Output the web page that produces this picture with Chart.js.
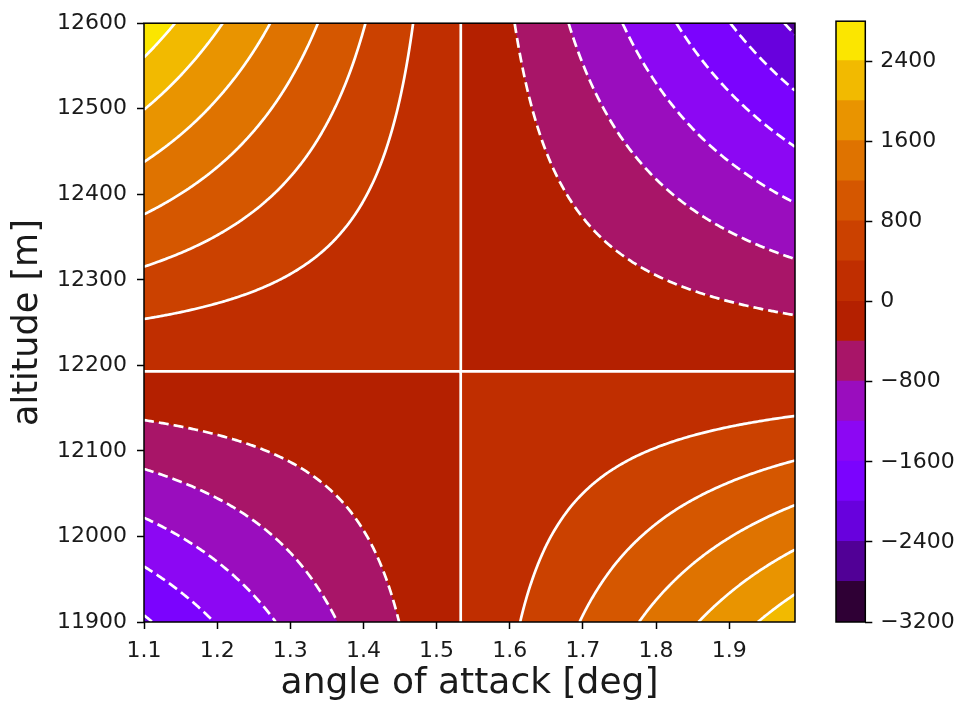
<!DOCTYPE html>
<html>
<head>
<meta charset="utf-8">
<script src="https://cdn.jsdelivr.net/npm/chart.js@4.4.1/dist/chart.umd.min.js"></script>
<style>
  html, body { margin: 0; padding: 0; background: #fff; }
  #wrap { position: relative; width: 960px; height: 706px; }
  #main { position: absolute; left: 0; top: 0; }
  #cbar { position: absolute; left: 826px; top: 0; }
</style>
</head>
<body>
<div id="wrap">
  <canvas id="main" width="960" height="706"></canvas>
  <canvas id="cbar" width="134" height="706"></canvas>
</div>
<script>
const alphaNodes = [1.1, 1.533, 1.99];
const altNodes = [11900, 12193, 12600];
const zRows = [
  [-2055, 0, 2250],
  [0, 0, 0],
  [2661, 0, -2480]
];
const levels = [-3200, -2800, -2400, -2000, -1600, -1200, -800, -400, 0, 400, 800, 1200, 1600, 2000, 2400, 2800];
const alphaTicks = [1.1, 1.2, 1.3, 1.4, 1.5, 1.6, 1.7, 1.8, 1.9];
const altTicks = [11900, 12000, 12100, 12200, 12300, 12400, 12500, 12600];
const cbarTicks = [-3200, -2400, -1600, -800, 0, 800, 1600, 2400];

const FONT = 'DejaVu Sans';
const TXT = '#1a1a1a';

// matplotlib "gnuplot" colormap
function gnuplot(t) {
  const c = [Math.sqrt(t), t * t * t, Math.sin(2 * Math.PI * t)];
  return c.map(v => Math.round(255 * Math.min(1, Math.max(0, v))));
}
const lo = levels[0], hi = levels[levels.length - 1];
const bandColors = levels.slice(0, -1).map((v, k) => gnuplot(((v + levels[k + 1]) / 2 - lo) / (hi - lo)));

function cellOf(nodes, v) {
  let k = 0;
  while (k < nodes.length - 2 && v > nodes[k + 1]) k++;
  return k;
}
function fieldAt(a, h) {
  const i = cellOf(alphaNodes, a), j = cellOf(altNodes, h);
  const tx = (a - alphaNodes[i]) / (alphaNodes[i + 1] - alphaNodes[i]);
  const ty = (h - altNodes[j]) / (altNodes[j + 1] - altNodes[j]);
  return (1 - tx) * (1 - ty) * zRows[j][i] + tx * (1 - ty) * zRows[j][i + 1] +
         (1 - tx) * ty * zRows[j + 1][i] + tx * ty * zRows[j + 1][i + 1];
}
function bandOf(z) {
  let k = 0;
  while (k < levels.length - 2 && z >= levels[k + 1]) k++;
  return k;
}

// marching squares, segments chained into polylines
function traceLevel(vals, nx, ny, px, py, L) {
  const adj = new Map(), pos = new Map();
  const link = (p, q) => {
    if (!adj.has(p)) adj.set(p, []);
    if (!adj.has(q)) adj.set(q, []);
    adj.get(p).push(q); adj.get(q).push(p);
  };
  const hKey = (i, j) => {
    const key = 'h' + i + '_' + j;
    if (!pos.has(key)) {
      const v0 = vals[j * nx + i], v1 = vals[j * nx + i + 1];
      const t = (L - v0) / (v1 - v0);
      pos.set(key, [px(i) + (px(i + 1) - px(i)) * t, py(j)]);
    }
    return key;
  };
  const vKey = (i, j) => {
    const key = 'v' + i + '_' + j;
    if (!pos.has(key)) {
      const v0 = vals[j * nx + i], v1 = vals[(j + 1) * nx + i];
      const t = (L - v0) / (v1 - v0);
      pos.set(key, [px(i), py(j) + (py(j + 1) - py(j)) * t]);
    }
    return key;
  };
  for (let j = 0; j < ny - 1; j++) {
    for (let i = 0; i < nx - 1; i++) {
      const va = vals[j * nx + i], vb = vals[j * nx + i + 1];
      const vc = vals[(j + 1) * nx + i + 1], vd = vals[(j + 1) * nx + i];
      const a = va >= L, b = vb >= L, c = vc >= L, d = vd >= L;
      const e = [];
      if (a !== b) e.push(hKey(i, j));
      if (b !== c) e.push(vKey(i + 1, j));
      if (d !== c) e.push(hKey(i, j + 1));
      if (a !== d) e.push(vKey(i, j));
      if (e.length === 2) link(e[0], e[1]);
      else if (e.length === 4) {
        const mid = (va + vb + vc + vd) / 4 >= L;
        if (mid === a) { link(e[0], e[1]); link(e[2], e[3]); }
        else { link(e[0], e[3]); link(e[1], e[2]); }
      }
    }
  }
  const seen = new Set(), lines = [];
  const walk = start => {
    const line = [pos.get(start)];
    seen.add(start);
    let cur = start;
    for (;;) {
      const nxt = adj.get(cur).find(k => !seen.has(k));
      if (!nxt) break;
      seen.add(nxt); line.push(pos.get(nxt)); cur = nxt;
    }
    return line;
  };
  for (const [k, n] of adj) if (n.length === 1 && !seen.has(k)) lines.push(walk(k));
  for (const k of adj.keys()) if (!seen.has(k)) { const l = walk(k); l.push(l[0]); lines.push(l); }
  return lines;
}

const contourPlugin = {
  id: 'contour',
  beforeDatasetsDraw(chart) {
    const { ctx, chartArea: a, scales: { x, y } } = chart;
    const w = Math.round(a.right - a.left), h = Math.round(a.bottom - a.top);
    const off = document.createElement('canvas');
    off.width = w; off.height = h;
    const octx = off.getContext('2d');
    const img = octx.createImageData(w, h);
    const xs = [], ys = [];
    for (let i = 0; i < w; i++) xs.push(x.getValueForPixel(a.left + i + 0.5));
    for (let j = 0; j < h; j++) ys.push(y.getValueForPixel(a.top + j + 0.5));
    for (let j = 0; j < h; j++) {
      for (let i = 0; i < w; i++) {
        const c = bandColors[bandOf(fieldAt(xs[i], ys[j]))];
        const p = 4 * (j * w + i);
        img.data[p] = c[0]; img.data[p + 1] = c[1]; img.data[p + 2] = c[2]; img.data[p + 3] = 255;
      }
    }
    octx.putImageData(img, 0, 0);
    ctx.drawImage(off, a.left, a.top);

    // contour lines: solid for >= 0, dashed for negative levels
    const step = 2;
    const nx = Math.ceil((a.right - a.left) / step) + 1, ny = Math.ceil((a.bottom - a.top) / step) + 1;
    const px = i => Math.min(a.right, a.left + i * step);
    const py = j => Math.min(a.bottom, a.top + j * step);
    const vals = new Float64Array(nx * ny);
    for (let j = 0; j < ny; j++) {
      const hv = y.getValueForPixel(py(j));
      for (let i = 0; i < nx; i++) vals[j * nx + i] = fieldAt(x.getValueForPixel(px(i)), hv);
    }
    ctx.save();
    ctx.beginPath();
    ctx.rect(a.left, a.top, a.right - a.left, a.bottom - a.top);
    ctx.clip();
    ctx.strokeStyle = '#fff';
    ctx.lineWidth = 2.7;
    ctx.lineJoin = 'round';
    levels.slice(1, -1).forEach(L => {
      ctx.setLineDash(L < 0 ? [10, 5] : []);
      traceLevel(vals, nx, ny, px, py, L).forEach(line => {
        if (line.length < 2) return;
        ctx.beginPath();
        ctx.moveTo(line[0][0], line[0][1]);
        for (let k = 1; k < line.length; k++) ctx.lineTo(line[k][0], line[k][1]);
        ctx.stroke();
      });
    });
    ctx.restore();
  }
};

const framePlugin = {
  id: 'frame',
  afterDraw(chart) {
    const { ctx, chartArea: a } = chart;
    ctx.save();
    ctx.strokeStyle = '#000';
    ctx.lineWidth = 1.5;
    ctx.strokeRect(a.left, a.top, a.right - a.left, a.bottom - a.top);
    ctx.restore();
  }
};

const tickGrid = { drawOnChartArea: false, drawTicks: true, tickLength: 7, tickWidth: 1.5, tickColor: '#000' };

new Chart(document.getElementById('main'), {
  type: 'scatter',
  data: { datasets: [] },
  options: {
    responsive: false,
    animation: false,
    events: [],
    layout: { padding: { left: 0, right: 165, top: 17, bottom: 0 } },
    plugins: { legend: { display: false }, tooltip: { enabled: false } },
    scales: {
      x: {
        type: 'linear', min: 1.1, max: 1.99,
        afterBuildTicks: s => { s.ticks = alphaTicks.map(v => ({ value: v })); },
        afterFit: s => { s.height = 84; },
        ticks: { callback: v => v.toFixed(1), font: { family: FONT, size: 22 }, color: TXT, padding: 9, maxRotation: 0, autoSkip: false },
        grid: tickGrid,
        border: { display: false },
        title: { display: true, text: 'angle of attack [deg]', font: { family: FONT, size: 36 }, color: TXT, padding: { top: 0, bottom: 1 } }
      },
      y: {
        type: 'linear', min: 11900, max: 12600,
        afterBuildTicks: s => { s.ticks = altTicks.map(v => ({ value: v })); },
        afterFit: s => { s.width = 144; },
        ticks: { callback: v => String(v), font: { family: FONT, size: 22 }, color: TXT, padding: 10, autoSkip: false },
        grid: tickGrid,
        border: { display: false },
        title: { display: true, text: 'altitude [m]', font: { family: FONT, size: 35 }, color: TXT, padding: { top: 7, bottom: 0 } }
      }
    }
  },
  plugins: [contourPlugin, framePlugin]
});

new Chart(document.getElementById('cbar'), {
  type: 'bar',
  data: {
    labels: [''],
    datasets: bandColors.map((c, k) => ({
      data: [[levels[k], levels[k + 1]]],
      backgroundColor: 'rgb(' + c.join(',') + ')',
      borderWidth: 0,
      inflateAmount: 1,
      grouped: false,
      barPercentage: 1,
      categoryPercentage: 1
    }))
  },
  options: {
    responsive: false,
    animation: false,
    events: [],
    layout: { padding: { left: 10, right: 0, top: 17, bottom: 84 } },
    plugins: { legend: { display: false }, tooltip: { enabled: false } },
    scales: {
      x: { display: false },
      y: {
        position: 'right', min: levels[0], max: levels[levels.length - 1],
        afterBuildTicks: s => { s.ticks = cbarTicks.map(v => ({ value: v })); },
        afterFit: s => { s.width = 94.7; },
        ticks: { callback: v => (v < 0 ? '\u2212' + Math.abs(v) : String(v)), font: { family: FONT, size: 22 }, color: TXT, padding: 8, autoSkip: false },
        grid: tickGrid,
        border: { display: false }
      }
    }
  },
  plugins: [framePlugin]
});
</script>
</body>
</html>
